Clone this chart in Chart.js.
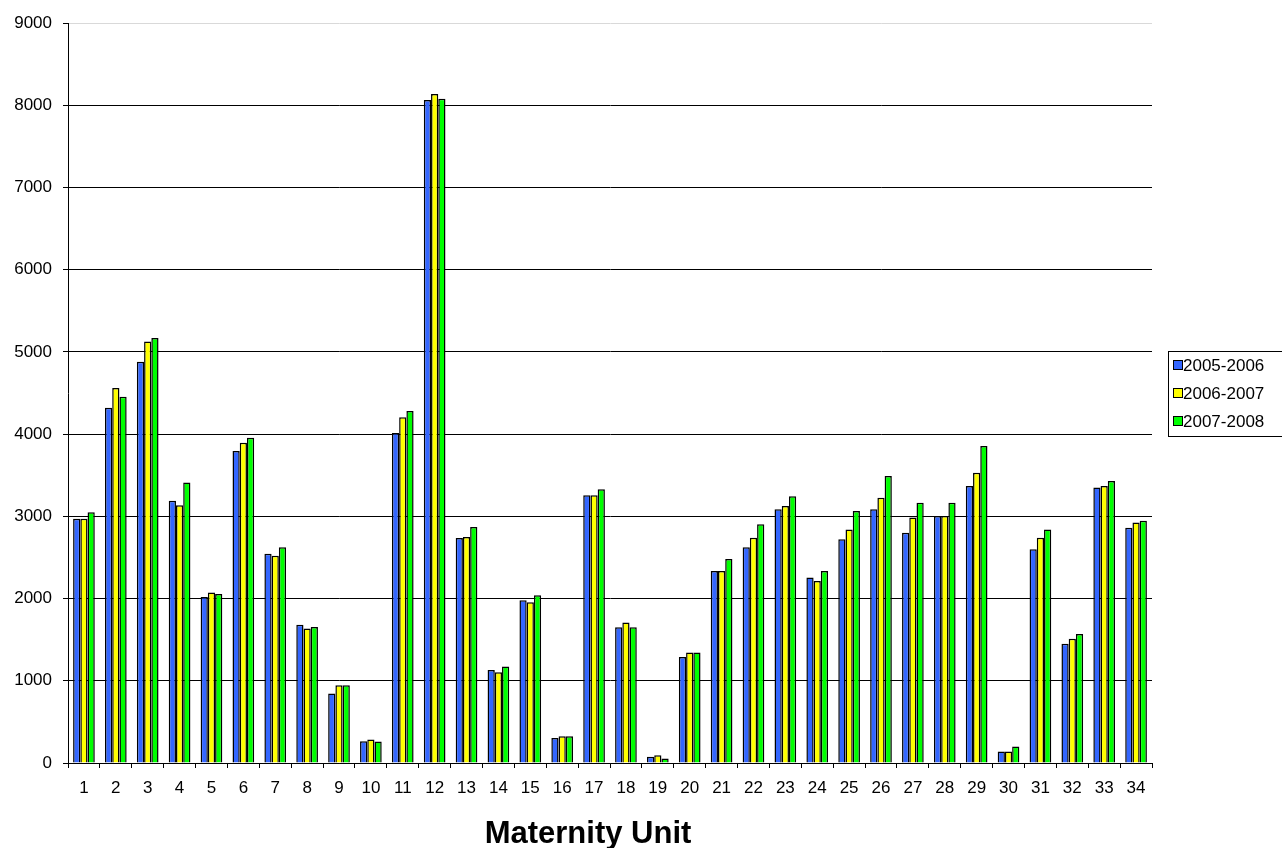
<!DOCTYPE html>
<html>
<head>
<meta charset="utf-8">
<title>Maternity Unit</title>
<script src="https://cdn.jsdelivr.net/npm/chart.js@4/dist/chart.umd.min.js"></script>
<style>
  html, body { margin: 0; padding: 0; background: #fff; }
  #wrap { width: 1282px; height: 848px; position: relative; }
</style>
</head>
<body>
<div id="wrap"><canvas id="unitChart" width="1282" height="848"></canvas></div>
<script>
const FONT = "'Liberation Sans', Arial, sans-serif";

// Deliveries per maternity unit, one array per year
const units = Array.from({ length: 34 }, (_, i) => String(i + 1));
const seriesLabels = ["2005-2006", "2006-2007", "2007-2008"];
const y2005 = [2970, 4320, 4880, 3190, 2020, 3795, 2545, 1680, 845, 265, 4015, 8065, 2735, 1130, 1980, 305, 3255,
               1650, 75, 1290, 2335, 2625, 3085, 2255, 2720, 3085, 2800, 3005, 3370, 140, 2600, 1450, 3350, 2860];
const y2006 = [2970, 4560, 5125, 3135, 2075, 3895, 2520, 1635, 945, 285, 4205, 8135, 2750, 1105, 1955, 325, 3255,
               1710, 95, 1345, 2335, 2740, 3125, 2215, 2840, 3225, 2985, 3005, 3530, 140, 2740, 1510, 3370, 2925];
const y2007 = [3050, 4455, 5170, 3410, 2055, 3955, 2625, 1655, 945, 260, 4280, 8080, 2870, 1175, 2040, 325, 3330,
               1650, 55, 1345, 2480, 2905, 3245, 2335, 3065, 3490, 3165, 3165, 3855, 200, 2840, 1570, 3430, 2945];
const colors = ["#3366FF", "#FFFF00", "#00FF00"];
const xTitle = "Maternity Unit";

// boxed legend at the right-hand side
const boxLegend = {
  id: "boxLegend",
  afterDraw(chart) {
    const ctx = chart.ctx;
    ctx.save();
    ctx.strokeStyle = "#000";
    ctx.lineWidth = 1;
    ctx.strokeRect(1168.5, 351.5, 130, 85);
    ctx.font = "17px " + FONT;
    ctx.textBaseline = "middle";
    ctx.textAlign = "left";
    chart.data.datasets.forEach((ds, i) => {
      const y = 365 + i * 28;
      ctx.fillStyle = ds.backgroundColor;
      ctx.fillRect(1173, y - 5, 9, 9);
      ctx.strokeRect(1173.5, y - 4.5, 9, 9);
      ctx.fillStyle = "#000";
      ctx.fillText(ds.label, 1183, y + 1);
    });
    ctx.restore();
  },
};

// axis title below the unit numbers
const axisTitle = {
  id: "axisTitle",
  afterDraw(chart) {
    const ctx = chart.ctx;
    ctx.save();
    ctx.font = "bold 31px " + FONT;
    ctx.fillStyle = "#000";
    ctx.textAlign = "center";
    ctx.textBaseline = "alphabetic";
    ctx.fillText(xTitle, 588, 843);
    ctx.restore();
  },
};

const ctx = document.getElementById("unitChart").getContext("2d");
new Chart(ctx, {
  type: "bar",
  data: {
    labels: units,
    datasets: [y2005, y2006, y2007].map((d, i) => ({
      label: seriesLabels[i],
      data: d,
      backgroundColor: colors[i],
      borderColor: "#000",
      borderWidth: 1.5,
      categoryPercentage: 0.68,
      barPercentage: 1.0,
    })),
  },
  options: {
    responsive: false,
    animation: false,
    layout: { padding: { top: 23, right: 130, bottom: 0, left: 0 } },
    plugins: {
      legend: { display: false },
      tooltip: { enabled: false },
    },
    scales: {
      x: {
        offset: true,
        grid: {
          display: true,
          drawOnChartArea: false,
          drawTicks: true,
          tickLength: 5,
          tickColor: "#000",
          offset: true,
        },
        border: { display: true, color: "#000", width: 1 },
        ticks: {
          color: "#000",
          font: { family: FONT, size: 17 },
          maxRotation: 0,
          autoSkip: false,
          padding: 10,
        },
        afterFit(scale) {
          scale.height = 85;
        },
      },
      y: {
        min: 0,
        max: 9000,
        ticks: {
          stepSize: 1000,
          color: "#000",
          font: { family: FONT, size: 17 },
          padding: 11,
          callback: (v) => String(v),
        },
        grid: {
          color: (c) => (c.tick && c.tick.value === 9000 ? "#d9d9d9" : "#000"),
          lineWidth: 1,
          tickLength: 5,
          tickColor: "#000",
        },
        border: { display: true, color: "#000", width: 1 },
        afterFit(scale) {
          scale.width = 68;
        },
      },
    },
  },
  plugins: [boxLegend, axisTitle],
});
</script>
</body>
</html>
